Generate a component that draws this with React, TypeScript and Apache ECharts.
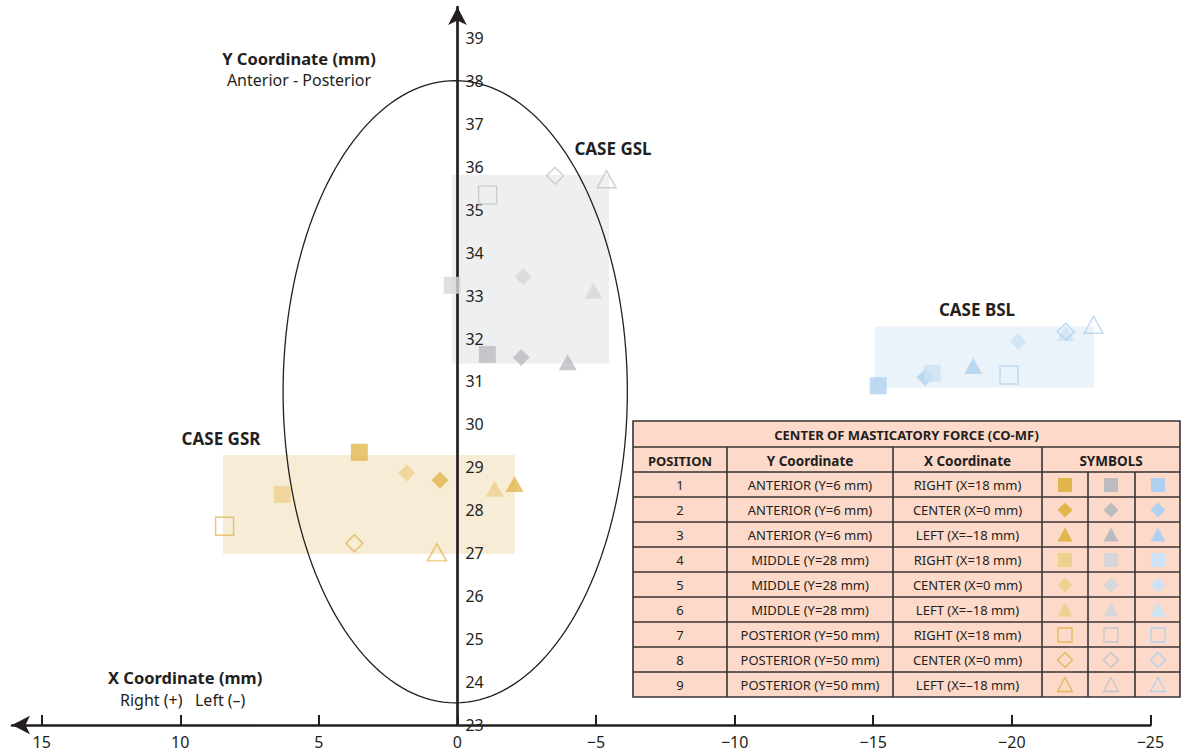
import React, { useEffect, useRef } from "react";
import * as echarts from "echarts";

// ---------- data ----------
const xTicks = [15, 10, 5, 0, -5, -10, -15, -20, -25];
const yTicks = [23, 24, 25, 26, 27, 28, 29, 30, 31, 32, 33, 34, 35, 36, 37, 38, 39];

// positions 1..9 for each case
const gsrX = [3.54, 0.63, -2.06, 6.32, 1.83, -1.34, 8.4, 3.72, 0.74];
const gsrY = [29.35, 28.7, 28.61, 28.37, 28.87, 28.5, 27.63, 27.23, 27.02];
const gslX = [-1.08, -2.3, -3.98, 0.19, -2.37, -4.91, -1.09, -3.52, -5.38];
const gslY = [31.63, 31.56, 31.45, 33.24, 33.44, 33.11, 35.34, 35.79, 35.71];
const bslX = [-15.18, -16.87, -18.61, -17.13, -20.23, -21.95, -19.9, -21.95, -22.95];
const bslY = [30.9, 31.1, 31.36, 31.19, 31.93, 32.13, 31.15, 32.16, 32.32];

// case ranges [xRight(+), xLeft(-), yTop, yBottom]
const gsrBox = [8.46, -2.07, 29.29, 26.98];
const gslBox = [0.19, -5.47, 35.81, 31.42];
const bslBox = [-15.06, -22.96, 32.28, 30.86];

// ellipse (center x, center y, radius x, radius y)
const ellipse = [0.08, 30.76, 6.21, 7.245];

const positions = ["1", "2", "3", "4", "5", "6", "7", "8", "9"];
const yCoordText = [
  "ANTERIOR (Y=6 mm)", "ANTERIOR (Y=6 mm)", "ANTERIOR (Y=6 mm)",
  "MIDDLE (Y=28 mm)", "MIDDLE (Y=28 mm)", "MIDDLE (Y=28 mm)",
  "POSTERIOR (Y=50 mm)", "POSTERIOR (Y=50 mm)", "POSTERIOR (Y=50 mm)",
];
const xCoordText = [
  "RIGHT (X=18 mm)", "CENTER (X=0 mm)", "LEFT (X=\u201318 mm)",
  "RIGHT (X=18 mm)", "CENTER (X=0 mm)", "LEFT (X=\u201318 mm)",
  "RIGHT (X=18 mm)", "CENTER (X=0 mm)", "LEFT (X=\u201318 mm)",
];

// ---------- styles ----------
const FONT = "'Noto Sans', sans-serif";
const INK = "#231F20";
const palettes = {
  gold: { dark: "#E2B64E", light: "#EDD18F", outline: "#E3B85A", box: "#F7ECD6" },
  gray: { dark: "#BBBCC0", light: "#D6D7D9", outline: "#C4C5C8", box: "#EEEFF1" },
  blue: { dark: "#AFD1EF", light: "#CCE2F5", outline: "#B2D3F0", box: "#EAF2FA" },
};
const shapes = ["rect", "diamond", "triangle"];
const tones = ["dark", "light", "outline"];

const GRID_LEFT = 12;
const X_MIN = -25;
const X_MAX = 16.07;
const GRID_RIGHT = 30.6;
const CHART_W = 1181;

function scatterData(xs: number[], ys: number[], pal: any) {
  return xs.map((x, i) => {
    const shape = shapes[i % 3];
    const tone = tones[Math.floor(i / 3)];
    const outline = tone === "outline";
    let size: any = 17;
    if (shape === "triangle") size = outline ? [19, 17] : [18, 16];
    if (shape === "rect") size = outline ? 18 : 17;
    return {
      value: [x, ys[i]],
      symbol: shape,
      symbolSize: size,
      itemStyle: outline
        ? { color: "rgba(255,255,255,0)", borderColor: pal.outline, borderWidth: 1.5 }
        : { color: pal[tone], borderWidth: 0 },
    };
  });
}

function tableGraphics() {
  const left = 633, right = 1180, top = 421;
  const titleH = 26, headH = 25, rowH = 25;
  const cols = [633, 727, 893, 1042, 1088, 1135, 1180];
  const bodyTop = top + titleH + headH;
  const bottom = bodyTop + rowH * 9;
  const stroke = "#3a3333";
  const els: any[] = [];
  els.push({ type: "rect", shape: { x: left, y: top, width: right - left, height: bottom - top }, style: { fill: "#FCD9C9", stroke, lineWidth: 1.6 } });
  const hl = (y: number) => els.push({ type: "line", shape: { x1: left, y1: y, x2: right, y2: y }, style: { stroke, lineWidth: 1.6 } });
  hl(top + titleH);
  for (let r = 0; r < 9; r++) hl(bodyTop + r * rowH);
  [cols[1], cols[2], cols[3]].forEach((x) => els.push({ type: "line", shape: { x1: x, y1: top + titleH, x2: x, y2: bottom }, style: { stroke, lineWidth: 1.6 } }));
  [cols[4], cols[5]].forEach((x) => els.push({ type: "line", shape: { x1: x, y1: bodyTop, x2: x, y2: bottom }, style: { stroke, lineWidth: 1.6 } }));
  const txt = (s: string, x: number, y: number, bold: boolean, size: number) =>
    els.push({ type: "text", x, y, style: { text: s, fill: INK, font: `${bold ? "bold " : ""}${size}px ${FONT}`, align: "center", verticalAlign: "middle" } });
  txt("CENTER OF MASTICATORY FORCE (CO-MF)", (left + right) / 2, top + titleH / 2 + 1, true, 13);
  const hy = top + titleH + headH / 2 + 1;
  txt("POSITION", (cols[0] + cols[1]) / 2, hy, true, 13);
  txt("Y Coordinate", (cols[1] + cols[2]) / 2, hy, true, 13.5);
  txt("X Coordinate", (cols[2] + cols[3]) / 2, hy, true, 13.5);
  txt("SYMBOLS", (cols[3] + cols[6]) / 2, hy, true, 13.5);
  const symX = [1065, 1111, 1158];
  const pals = [palettes.gold, palettes.gray, palettes.blue];
  for (let r = 0; r < 9; r++) {
    const cy = bodyTop + r * rowH + rowH / 2 + 0.5;
    txt(positions[r], (cols[0] + cols[1]) / 2, cy, false, 13);
    txt(yCoordText[r], (cols[1] + cols[2]) / 2, cy, false, 13);
    txt(xCoordText[r], (cols[2] + cols[3]) / 2, cy, false, 13);
    const shape = shapes[r % 3];
    const tone = tones[Math.floor(r / 3)];
    symX.forEach((cx, k) => {
      const pal: any = pals[k];
      const style = tone === "outline"
        ? { fill: "none", stroke: pal.outline, lineWidth: 1.3 }
        : { fill: pal[tone] };
      if (shape === "rect") {
        els.push({ type: "rect", shape: { x: cx - 7, y: cy - 7, width: 14, height: 14 }, style });
      } else if (shape === "diamond") {
        els.push({ type: "polygon", shape: { points: [[cx, cy - 7.5], [cx + 7.5, cy], [cx, cy + 7.5], [cx - 7.5, cy]] }, style });
      } else {
        els.push({ type: "polygon", shape: { points: [[cx, cy - 7.5], [cx + 7.5, cy + 6.5], [cx - 7.5, cy + 6.5]] }, style });
      }
    });
  }
  return els;
}

export default function App() {
  const ref = useRef<HTMLDivElement>(null);
  useEffect(() => {
    if (!ref.current) return;
    const chart = echarts.init(ref.current, undefined, { renderer: "svg" });
    const boxes = [gsrBox, gslBox, bslBox];
    const boxColors = [palettes.gold.box, palettes.gray.box, palettes.blue.box];
    const fmt = (v: number) => (v < 0 ? "\u2212" + Math.abs(v) : String(v));
    // pixel distance from the grid's left edge to x = 0 (where the y axis stands)
    const plotW = CHART_W - GRID_LEFT - GRID_RIGHT;
    const zeroOffset = (plotW * (X_MAX - 0)) / (X_MAX - X_MIN);
    const option: any = {
      animation: false,
      backgroundColor: "#ffffff",
      textStyle: { fontFamily: FONT },
      grid: { left: GRID_LEFT, right: GRID_RIGHT, top: 7, bottom: 27, containLabel: false },
      xAxis: {
        type: "value",
        min: X_MIN,
        max: X_MAX,
        inverse: true,
        splitLine: { show: false },
        axisLine: {
          onZero: false,
          symbol: ["arrow", "none"],
          symbolSize: [14, 18],
          lineStyle: { color: INK, width: 2.5 },
        },
        axisTick: { show: true, inside: true, length: 10, customValues: xTicks, lineStyle: { color: INK, width: 2 } },
        axisLabel: { customValues: xTicks, formatter: fmt, color: INK, fontSize: 16, fontFamily: FONT, margin: 9 },
      },
      yAxis: {
        type: "value",
        min: 23,
        max: 39.72,
        position: "left",
        offset: -zeroOffset,
        splitLine: { show: false },
        axisLine: {
          onZero: false,
          symbol: ["none", "arrow"],
          symbolSize: [14, 18],
          lineStyle: { color: INK, width: 2.7 },
        },
        axisTick: { show: false },
        axisLabel: { inside: true, customValues: yTicks, color: INK, fontSize: 16, fontFamily: FONT, margin: 8 },
      },
      series: [
        {
          type: "custom",
          z: -1,
          silent: true,
          clip: false,
          data: boxes.map((b) => [b[0], b[2], b[1], b[3]]),
          renderItem: (params: any, api: any) => {
            const p1 = api.coord([api.value(0), api.value(1)]);
            const p2 = api.coord([api.value(2), api.value(3)]);
            return {
              type: "rect",
              shape: { x: Math.min(p1[0], p2[0]), y: Math.min(p1[1], p2[1]), width: Math.abs(p2[0] - p1[0]), height: Math.abs(p2[1] - p1[1]) },
              style: { fill: boxColors[params.dataIndex] },
            };
          },
        },
        {
          type: "custom",
          z: 1,
          silent: true,
          clip: false,
          data: [[ellipse[0], ellipse[1]]],
          renderItem: (params: any, api: any) => {
            const pts: number[][] = [];
            for (let k = 0; k <= 180; k++) {
              const t = (k / 180) * Math.PI * 2;
              pts.push(api.coord([ellipse[0] + ellipse[2] * Math.cos(t), ellipse[1] + ellipse[3] * Math.sin(t)]));
            }
            return { type: "polygon", shape: { points: pts }, style: { fill: "none", stroke: INK, lineWidth: 1.3 } };
          },
        },
        { type: "scatter", z: 3, data: scatterData(gsrX, gsrY, palettes.gold) },
        { type: "scatter", z: 3, data: scatterData(gslX, gslY, palettes.gray) },
        { type: "scatter", z: 3, data: scatterData(bslX, bslY, palettes.blue) },
      ],
      graphic: [
        { type: "text", x: 613, y: 148, z: 10, style: { text: "CASE GSL", fill: INK, font: `bold 17px ${FONT}`, align: "center", verticalAlign: "middle" } },
        { type: "text", x: 977, y: 309, z: 10, style: { text: "CASE BSL", fill: INK, font: `bold 17px ${FONT}`, align: "center", verticalAlign: "middle" } },
        { type: "text", x: 221, y: 438, z: 10, style: { text: "CASE GSR", fill: INK, font: `bold 17px ${FONT}`, align: "center", verticalAlign: "middle" } },
        { type: "text", x: 299, y: 58, z: 10, style: { text: "Y Coordinate (mm)", fill: INK, font: `bold 16.5px ${FONT}`, align: "center", verticalAlign: "middle" } },
        { type: "text", x: 299, y: 80, z: 10, style: { text: "Anterior - Posterior", fill: INK, font: `16px ${FONT}`, align: "center", verticalAlign: "middle" } },
        { type: "text", x: 108, y: 677, z: 10, style: { text: "X Coordinate (mm)", fill: INK, font: `bold 16.5px ${FONT}`, align: "left", verticalAlign: "middle" } },
        { type: "text", x: 120, y: 700, z: 10, style: { text: "Right (+)   Left (\u2013)", fill: INK, font: `16px ${FONT}`, align: "left", verticalAlign: "middle" } },
        { type: "group", z: 10, children: tableGraphics() },
      ],
    };
    chart.setOption(option);
    return () => chart.dispose();
  }, []);
  return <div ref={ref} style={{ position: "absolute", left: 0, top: 0, width: 1181, height: 752 }} />;
}
